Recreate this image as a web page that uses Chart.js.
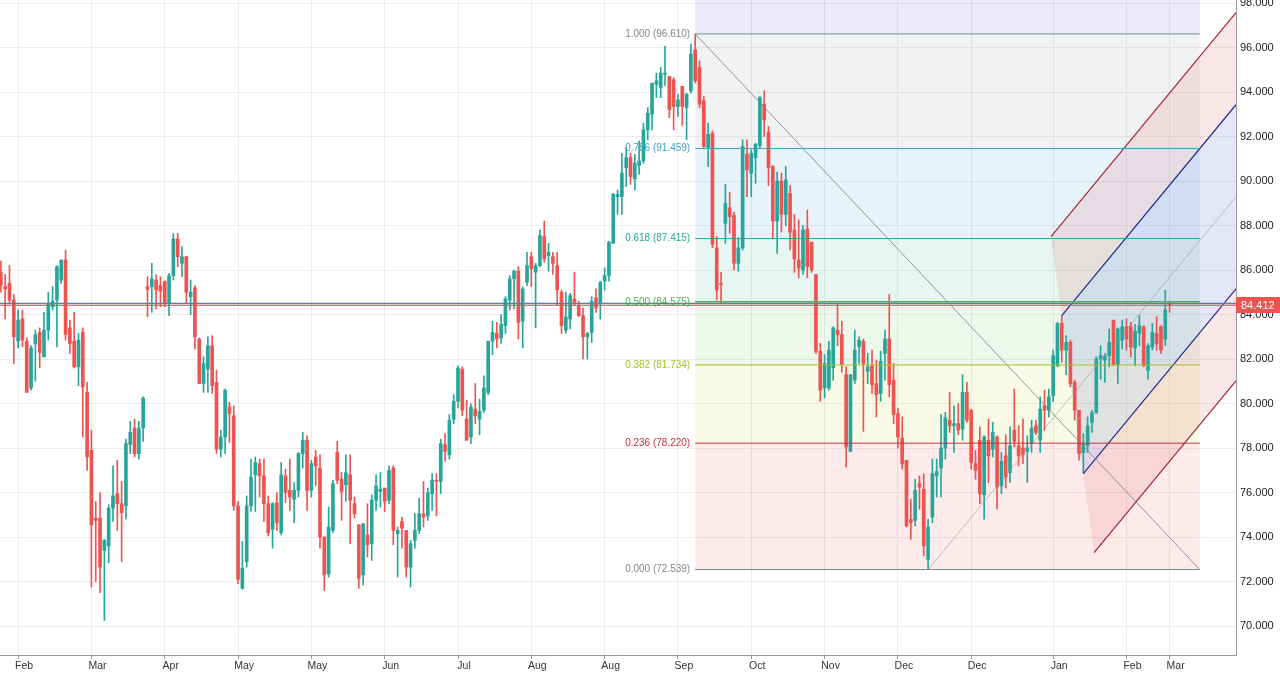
<!DOCTYPE html>
<html>
<head>
<meta charset="utf-8">
<title>Chart</title>
<script src="https://cdn.jsdelivr.net/npm/chart.js@4.4.0/dist/chart.umd.min.js"></script>
<style>
  html, body { margin: 0; padding: 0; background: #ffffff; }
  canvas { display: block; }
</style>
</head>
<body>
<canvas id="chart" width="1280" height="675"></canvas>
<script>
// daily candles (index 0 = first bar on the left)
var opens = [
  85.9, 85.25, 85.4, 84.65, 82.8, 83.8, 82.8, 80.7, 82.7, 83.2,
  82.1, 83.3, 84.35, 84.65, 85.55, 86.45, 83.4, 82.8, 81.65, 83.2,
  80.5, 77.9, 74.85, 74.85, 73.4, 73.6, 75.3, 75.95, 75.5, 75.4,
  78.15, 78.9, 77.75, 78.9, 85.25, 85.25, 85.55, 85.3, 85.5, 84.5,
  85.75, 87.4, 86.3, 86.6, 84.8, 85.2, 82.9, 80.9, 81.55, 82.6,
  80.95, 77.95, 78.5, 79.85, 79.45, 75.4, 71.7, 72.9, 75.4, 76.8,
  77.3, 76.75, 75.5, 74.35, 75.55, 74.2, 76.75, 76.1, 75.7, 76.1,
  77.75, 78.35, 76.1, 77.6, 77.1, 74.0, 72.35, 74.3, 77.8, 76.6,
  76.35, 76.8, 75.5, 74.55, 72.3, 74.1, 73.7, 75.65, 76.05, 76.2,
  75.65, 77.1, 74.15, 74.7, 74.3, 72.65, 73.85, 74.3, 75.05, 74.95,
  75.95, 76.55, 76.5, 78.15, 77.7, 79.3, 80.1, 81.55, 79.3, 78.5,
  79.75, 79.3, 79.7, 80.5, 82.8, 83.15, 82.95, 83.5, 84.65, 85.6,
  85.95, 83.7, 85.45, 86.6, 85.9, 86.2, 87.5, 86.65, 86.6, 86.2,
  85.0, 83.3, 83.8, 84.7, 84.4, 83.95, 83.0, 83.2, 84.75, 84.5,
  85.5, 85.75, 87.2, 89.3, 89.3, 90.6, 91.05, 90.1, 90.7, 90.9,
  92.3, 93.0, 94.35, 94.2, 94.8, 94.7, 94.55, 93.35, 94.25, 93.3,
  94.05, 95.9, 95.1, 93.6, 91.5, 92.15, 87.0, 85.4, 88.1, 88.8,
  88.45, 86.3, 87.0, 91.2, 90.35, 91.05, 91.6, 93.45, 92.2, 90.65,
  88.2, 90.0, 88.5, 89.45, 87.8, 86.45, 86.0, 87.85, 87.25, 85.8,
  82.35, 80.7, 80.7, 81.6, 83.3, 83.1, 81.3, 77.85, 81.05, 82.55,
  82.8, 81.45, 81.7, 80.9, 80.45, 82.25, 82.9, 81.05, 79.55, 78.45,
  77.45, 74.8, 74.75, 76.4, 76.15, 73.0, 74.9, 76.75, 77.1, 78.0,
  79.25, 79.0, 79.1, 78.85, 80.5, 79.7, 77.3, 78.35, 75.9, 78.35,
  77.95, 78.5, 76.3, 77.65, 76.9, 78.8, 78.1, 78.0, 77.85, 78.2,
  79.0, 78.35, 79.9, 79.7, 80.35, 81.7, 83.6, 82.4, 82.75, 80.95,
  79.7, 77.8, 78.1, 79.15, 79.6, 82.0, 81.95, 82.15, 83.75, 81.75,
  82.85, 83.45, 83.45, 82.5, 83.15, 83.45, 81.5, 82.55, 83.15, 83.45,
  82.9, 84.5
];
var highs = [
  86.4, 85.8, 86.2, 84.9, 84.2, 84.2, 82.95, 82.6, 83.3, 83.4,
  84.1, 85.0, 85.25, 86.2, 86.45, 86.9, 83.75, 84.1, 83.15, 83.4,
  80.95, 78.8, 75.6, 76.0, 73.9, 75.45, 77.2, 77.45, 76.5, 78.4,
  79.2, 79.3, 79.2, 80.3, 85.7, 86.3, 85.8, 85.7, 85.5, 85.85,
  87.65, 87.65, 87.05, 86.6, 85.55, 85.3, 82.95, 82.1, 83.0, 83.05,
  81.5, 78.8, 80.65, 80.05, 79.9, 75.6, 73.8, 75.85, 77.5, 77.6,
  77.5, 77.5, 75.85, 75.55, 76.0, 77.35, 77.05, 77.5, 76.45, 77.8,
  78.7, 78.55, 77.45, 77.9, 77.7, 74.0, 75.35, 76.55, 78.3, 76.9,
  77.7, 77.7, 75.8, 74.55, 74.6, 75.5, 75.9, 76.8, 76.9, 76.2,
  77.2, 77.2, 74.45, 74.9, 74.3, 73.85, 75.05, 75.75, 76.5, 76.2,
  76.85, 76.85, 78.4, 78.65, 79.5, 80.4, 81.7, 81.65, 80.15, 80.0,
  80.9, 80.2, 81.25, 82.8, 83.7, 83.65, 84.0, 84.8, 85.75, 86.0,
  86.15, 85.25, 86.8, 86.8, 86.3, 87.8, 88.2, 87.2, 86.8, 86.8,
  85.1, 85.0, 84.95, 85.9, 84.6, 84.3, 83.2, 84.8, 85.15, 85.5,
  86.1, 87.3, 89.45, 89.6, 91.25, 91.5, 91.25, 91.2, 91.8, 92.6,
  93.3, 94.4, 94.85, 95.1, 96.05, 94.7, 94.65, 93.9, 94.25, 93.95,
  96.15, 96.61, 95.4, 93.8, 92.6, 92.25, 87.5, 85.9, 89.85, 89.5,
  88.6, 87.45, 91.85, 91.85, 91.4, 91.7, 93.8, 94.05, 92.45, 90.7,
  90.4, 90.35, 90.65, 89.8, 88.5, 88.25, 88.0, 88.7, 87.25, 85.8,
  82.7, 82.2, 82.8, 83.45, 84.45, 83.7, 81.65, 81.3, 83.3, 83.0,
  82.9, 82.25, 82.4, 81.95, 82.35, 83.3, 84.9, 81.8, 79.8, 79.4,
  77.45, 75.7, 76.6, 76.75, 76.85, 74.8, 77.5, 77.5, 79.5, 79.6,
  80.5, 79.9, 80.0, 81.3, 80.95, 79.75, 77.9, 78.95, 78.55, 79.3,
  79.15, 78.55, 77.8, 78.6, 78.95, 80.65, 79.0, 79.3, 78.55, 79.25,
  79.25, 80.3, 80.6, 80.65, 82.4, 83.65, 83.95, 83.05, 82.85, 81.05,
  79.7, 78.65, 79.4, 79.7, 82.1, 82.6, 82.25, 83.35, 83.75, 83.4,
  83.75, 83.8, 83.65, 83.55, 83.95, 83.5, 82.7, 83.6, 83.9, 83.5,
  85.1, 84.6
];
var lows = [
  85.0, 83.8, 84.5, 81.8, 82.5, 82.55, 80.5, 80.6, 81.0, 81.6,
  82.1, 82.85, 84.2, 82.55, 85.4, 82.85, 82.25, 81.6, 80.8, 78.5,
  77.0, 71.75, 72.0, 71.5, 70.25, 72.85, 74.7, 74.3, 72.9, 74.8,
  77.75, 77.6, 77.5, 78.3, 83.9, 84.1, 84.25, 84.35, 84.35, 83.95,
  85.55, 86.15, 85.7, 84.5, 84.0, 82.45, 80.9, 80.5, 80.5, 80.45,
  77.75, 77.6, 77.75, 78.25, 75.2, 71.9, 71.65, 72.65, 75.15, 75.15,
  75.8, 74.7, 74.05, 73.5, 74.3, 74.1, 75.55, 75.2, 74.65, 75.8,
  77.1, 75.2, 75.8, 76.3, 73.5, 71.6, 72.2, 74.2, 76.4, 74.75,
  75.6, 73.7, 74.85, 71.7, 71.85, 73.1, 72.95, 75.2, 75.35, 75.15,
  75.5, 73.65, 72.2, 73.5, 72.2, 71.75, 73.5, 74.15, 74.45, 74.75,
  75.2, 74.95, 75.95, 77.4, 77.5, 79.1, 79.8, 79.45, 78.35, 78.2,
  79.1, 78.6, 79.6, 80.4, 82.2, 82.5, 82.7, 83.15, 84.2, 84.25,
  82.9, 82.5, 85.3, 85.25, 83.4, 86.15, 86.35, 85.95, 85.8, 84.4,
  83.15, 83.15, 83.35, 84.4, 83.9, 82.0, 82.0, 82.75, 84.1, 83.8,
  85.1, 85.5, 87.2, 88.5, 88.5, 89.75, 89.85, 89.6, 90.3, 90.8,
  91.85, 92.3, 93.75, 93.75, 94.3, 92.85, 92.3, 92.9, 92.5, 91.85,
  93.95, 94.4, 93.3, 91.5, 90.65, 87.0, 84.65, 84.5, 87.2, 87.65,
  86.0, 85.95, 86.9, 89.3, 89.3, 89.9, 91.5, 92.0, 89.8, 87.4,
  86.75, 87.7, 88.0, 86.9, 85.9, 85.65, 85.8, 85.65, 85.9, 82.25,
  80.1, 80.25, 80.6, 81.05, 82.6, 81.4, 77.15, 77.85, 80.9, 81.8,
  78.75, 80.9, 80.45, 79.4, 80.1, 81.05, 80.3, 79.1, 78.0, 77.05,
  74.45, 73.9, 74.5, 75.25, 73.15, 72.54, 74.65, 75.8, 75.8, 77.5,
  78.7, 77.8, 78.6, 78.35, 79.15, 77.05, 76.6, 75.5, 74.8, 76.45,
  77.6, 75.25, 75.95, 76.2, 76.45, 78.05, 77.2, 77.3, 76.45, 77.8,
  78.6, 77.8, 78.8, 79.4, 80.1, 81.65, 81.85, 81.3, 80.75, 79.25,
  77.45, 76.85, 77.8, 78.7, 79.55, 81.1, 80.95, 81.65, 81.7, 80.9,
  82.45, 82.4, 82.1, 81.7, 82.6, 81.65, 81.1, 82.4, 82.4, 82.25,
  82.6, 84.1
];
var closes = [
  85.3, 85.15, 84.65, 83.0, 83.75, 82.85, 80.5, 82.5, 83.1, 82.3,
  83.3, 84.5, 84.6, 86.15, 86.45, 83.1, 82.7, 81.65, 82.85, 80.75,
  77.6, 74.55, 74.75, 72.65, 73.85, 75.3, 75.85, 75.5, 75.1, 78.2,
  78.7, 77.75, 78.9, 80.25, 85.13, 85.6, 85.1, 85.05, 84.5, 85.75,
  87.4, 86.6, 86.6, 85.0, 85.0, 83.0, 80.9, 81.8, 82.6, 80.8,
  77.95, 78.5, 80.6, 79.55, 75.4, 72.1, 72.6, 75.4, 76.7, 77.35,
  76.75, 75.5, 74.2, 75.5, 74.65, 76.8, 76.0, 75.8, 76.1, 77.75,
  78.35, 76.1, 77.3, 77.2, 74.0, 72.3, 74.45, 76.4, 76.55, 76.05,
  76.9, 75.65, 75.05, 72.15, 74.6, 73.65, 75.65, 76.3, 76.15, 75.6,
  77.0, 74.3, 74.3, 74.4, 72.65, 73.7, 74.3, 75.05, 74.9, 76.0,
  76.55, 76.5, 78.2, 77.85, 79.25, 80.1, 81.6, 79.7, 78.35, 79.85,
  79.45, 79.65, 80.7, 82.8, 83.2, 82.9, 83.55, 84.7, 85.6, 85.95,
  83.65, 85.15, 86.2, 86.05, 86.2, 87.55, 86.5, 86.8, 86.3, 85.1,
  83.5, 83.9, 84.85, 84.55, 83.95, 83.0, 83.15, 84.6, 84.3, 85.45,
  85.75, 87.25, 89.4, 89.4, 90.35, 91.05, 90.2, 90.8, 90.9, 92.3,
  93.05, 94.4, 94.5, 94.85, 94.85, 93.2, 93.35, 93.65, 93.35, 93.9,
  95.7, 94.5, 93.45, 91.55, 92.1, 87.15, 85.1, 85.35, 89.0, 88.4,
  86.3, 87.0, 91.55, 90.5, 91.25, 91.65, 93.75, 92.75, 90.6, 88.2,
  90.0, 88.5, 90.05, 87.7, 86.5, 86.1, 87.8, 86.15, 86.0, 82.35,
  80.6, 81.8, 82.4, 83.4, 83.1, 81.75, 78.05, 81.3, 82.4, 82.85,
  81.8, 81.65, 80.85, 80.4, 81.9, 82.9, 80.85, 79.5, 78.5, 77.3,
  74.5, 74.65, 76.1, 76.25, 73.6, 74.45, 76.85, 76.95, 78.0, 79.35,
  79.0, 79.1, 78.8, 80.5, 79.25, 77.35, 77.0, 75.95, 78.5, 77.65,
  78.7, 76.25, 77.4, 76.7, 78.1, 78.3, 77.65, 77.7, 78.0, 78.9,
  78.7, 79.75, 79.7, 80.3, 82.15, 83.6, 82.4, 82.75, 80.9, 79.7,
  77.75, 78.2, 79.0, 79.6, 82.0, 82.15, 82.15, 82.75, 81.75, 83.35,
  83.45, 82.9, 82.55, 83.25, 83.5, 81.7, 82.6, 83.2, 82.7, 82.4,
  84.2, 84.412
];

// time axis: bar index where each month label sits
var tickIdx = [4, 21, 38, 55, 72, 89, 106, 123, 140, 157, 174, 191, 208, 225, 244, 261, 271];
var tickLabels = ['Feb', 'Mar', 'Apr', 'May', 'May', 'Jun', 'Jul', 'Aug', 'Aug', 'Sep', 'Oct', 'Nov', 'Dec', 'Dec', 'Jan', 'Feb', 'Mar'];
var priceTicks = [70, 72, 74, 76, 78, 80, 82, 84, 86, 88, 90, 92, 94, 96, 98];

// fib retracement anchors (bar index, price) and levels
var fibIdx = [161, 278];
var fibPrice = [96.61, 72.539];
var fibLevels = [1.618, 1, 0.786, 0.618, 0.5, 0.382, 0.236, 0];

// pitchfork anchors: pivot low, upper high, lower low
var forkIdx = [215, 246, 251];
var forkPrice = [72.54, 83.95, 76.85];

var lastPrice = 84.412;
var flatLine = 84.5;

var UP = '#26a69a';
var DOWN = '#ef5350';
var X_MIN = -0.2;
var X_MAX = 286.4;

var fibColors = {
  '1.618': '#5c6bc0', '1': '#7f868f', '0.786': '#3fa0c0', '0.618': '#2aa88e',
  '0.5': '#4caf50', '0.382': '#a8bd2a', '0.236': '#c2333e', '0': '#7f868f'
};
var fibFills = {
  '1.618': 'rgba(80,80,215,0.12)', '1': 'rgba(120,123,134,0.10)', '0.786': 'rgba(40,150,210,0.11)',
  '0.618': 'rgba(20,165,120,0.10)', '0.5': 'rgba(90,180,60,0.10)', '0.382': 'rgba(205,210,40,0.12)',
  '0.236': 'rgba(235,60,70,0.11)'
};

function fibValue(lvl) {
  return fibPrice[1] + lvl * (fibPrice[0] - fibPrice[1]);
}

// pitchfork geometry from its three anchors
function forkLines() {
  var mx = (forkIdx[1] + forkIdx[2]) / 2;
  var my = (forkPrice[1] + forkPrice[2]) / 2;
  var slope = (my - forkPrice[0]) / (mx - forkIdx[0]);
  var half = { x: forkIdx[1] - mx, y: forkPrice[1] - my };
  var lines = {};
  [2, 1, -1, -2].forEach(function(f) {
    var sx = mx + f * half.x, sy = my + f * half.y;
    lines[f] = [{ x: sx, y: sy }, { x: X_MAX, y: sy + slope * (X_MAX - sx) }];
  });
  lines[0] = [{ x: forkIdx[0], y: forkPrice[0] }, { x: X_MAX, y: forkPrice[0] + slope * (X_MAX - forkIdx[0]) }];
  return lines;
}

function lineSet(points, color, width) {
  return {
    type: 'line',
    data: points,
    borderColor: color,
    borderWidth: width,
    pointRadius: 0,
    fill: false,
    tension: 0,
    order: 1
  };
}

function buildDatasets() {
  var sets = [];
  var bars = closes.map(function(c, i) { return i; });
  var colors = bars.map(function(i) { return closes[i] >= opens[i] ? UP : DOWN; });

  // horizontal line + last price line across the whole chart
  sets.push(lineSet([{ x: X_MIN, y: flatLine }, { x: X_MAX, y: flatLine }], '#5f7d9c', 1.5));
  sets.push(lineSet([{ x: X_MIN, y: lastPrice }, { x: X_MAX, y: lastPrice }], '#e0585a', 1));

  // fib level lines and trend line
  fibLevels.forEach(function(lvl) {
    if (lvl > 1) return;
    var p = fibValue(lvl);
    sets.push(lineSet([{ x: fibIdx[0], y: p }, { x: fibIdx[1], y: p }], fibColors[String(lvl)], lvl === 0.5 ? 1.5 : 1));
  });
  sets.push(lineSet([{ x: fibIdx[0], y: fibPrice[0] }, { x: fibIdx[1], y: fibPrice[1] }], 'rgba(120,128,138,0.8)', 1));

  // pitchfork
  var fl = forkLines();
  sets.push(lineSet(fl[0], 'rgba(150,150,150,0.55)', 1));
  sets.push(lineSet(fl[1], '#22288a', 1.2));
  sets.push(lineSet(fl[-1], '#22288a', 1.2));
  sets.push(lineSet(fl[2], '#a3242f', 1.2));
  sets.push(lineSet(fl[-2], '#a3242f', 1.2));

  // candles: bodies over wicks
  sets.push({
    type: 'bar',
    data: bars.map(function(i) { return { x: i, y: [opens[i], closes[i]] }; }),
    backgroundColor: colors,
    barThickness: 3,
    minBarLength: 1,
    grouped: false,
    order: 5
  });
  sets.push({
    type: 'bar',
    data: bars.map(function(i) { return { x: i, y: [lows[i], highs[i]] }; }),
    backgroundColor: colors,
    barThickness: 1,
    grouped: false,
    order: 6
  });
  return sets;
}

var drawings = {
  id: 'drawings',
  beforeDatasetsDraw: function(chart) {
    var ctx = chart.ctx, xs = chart.scales.x, ys = chart.scales.y, a = chart.chartArea;
    ctx.save();
    ctx.beginPath();
    ctx.rect(a.left, a.top, a.right - a.left, a.bottom - a.top);
    ctx.clip();

    // fib bands, each takes the colour of its upper level
    var x0 = xs.getPixelForValue(fibIdx[0]);
    var x1 = xs.getPixelForValue(fibIdx[1]);
    for (var k = 0; k < fibLevels.length - 1; k++) {
      var yTop = ys.getPixelForValue(fibValue(fibLevels[k]));
      var yBot = ys.getPixelForValue(fibValue(fibLevels[k + 1]));
      ctx.fillStyle = fibFills[String(fibLevels[k])];
      ctx.fillRect(x0, yTop, x1 - x0, yBot - yTop);
    }

    // pitchfork bands
    var fl = forkLines();
    var bands = [[2, 1, 'rgba(215,70,75,0.13)'], [1, -1, 'rgba(45,60,200,0.12)'], [-1, -2, 'rgba(215,70,75,0.13)']];
    bands.forEach(function(b) {
      var p = fl[b[0]], q = fl[b[1]];
      ctx.beginPath();
      ctx.moveTo(xs.getPixelForValue(p[0].x), ys.getPixelForValue(p[0].y));
      ctx.lineTo(xs.getPixelForValue(q[0].x), ys.getPixelForValue(q[0].y));
      ctx.lineTo(xs.getPixelForValue(q[1].x), ys.getPixelForValue(q[1].y));
      ctx.lineTo(xs.getPixelForValue(p[1].x), ys.getPixelForValue(p[1].y));
      ctx.closePath();
      ctx.fillStyle = b[2];
      ctx.fill();
    });
    ctx.restore();
  },
  afterDatasetsDraw: function(chart) {
    var ctx = chart.ctx, xs = chart.scales.x, ys = chart.scales.y;
    var x0 = xs.getPixelForValue(fibIdx[0]);
    ctx.save();
    ctx.font = '10px "Liberation Sans", Arial, sans-serif';
    ctx.textAlign = 'right';
    ctx.textBaseline = 'middle';
    fibLevels.forEach(function(lvl) {
      if (lvl > 1) return;
      var p = fibValue(lvl);
      ctx.fillStyle = fibColors[String(lvl)];
      ctx.fillText(lvl.toFixed(3) + ' (' + p.toFixed(3) + ')', x0 - 5, ys.getPixelForValue(p));
    });
    ctx.restore();
  },
  afterDraw: function(chart) {
    var ctx = chart.ctx, ys = chart.scales.y, a = chart.chartArea;
    var y = Math.round(ys.getPixelForValue(lastPrice));
    ctx.save();
    ctx.fillStyle = '#ef5350';
    ctx.fillRect(a.right, y - 8, chart.width - a.right, 16);
    ctx.fillStyle = '#ffffff';
    ctx.font = '11px "Liberation Sans", Arial, sans-serif';
    ctx.textAlign = 'left';
    ctx.textBaseline = 'middle';
    ctx.fillText(lastPrice.toFixed(3), a.right + 5, y + 0.5);
    ctx.restore();
  }
};

function generateChart() {
  var ctx = document.getElementById('chart').getContext('2d');
  new Chart(ctx, {
    type: 'bar',
    data: { datasets: buildDatasets() },
    plugins: [drawings],
    options: {
      responsive: false,
      animation: false,
      events: [],
      layout: { padding: 0 },
      plugins: {
        legend: { display: false },
        tooltip: { enabled: false }
      },
      scales: {
        x: {
          type: 'linear',
          min: X_MIN,
          max: X_MAX,
          offset: false,
          afterBuildTicks: function(scale) {
            scale.ticks = tickIdx.map(function(v) { return { value: v }; });
          },
          afterFit: function(scale) {
            scale.height = 20;
            scale.paddingLeft = 0;
            scale.paddingRight = 0;
          },
          grid: { offset: false, color: '#ececec', tickLength: 4, tickColor: '#9a9a9a' },
          border: { color: '#9a9a9a' },
          ticks: {
            autoSkip: false,
            maxRotation: 0,
            padding: 1,
            labelOffset: 6,
            color: '#333333',
            font: { family: '"Liberation Sans", Arial, sans-serif', size: 10.5 },
            callback: function(v, i) { return tickLabels[i]; }
          }
        },
        y: {
          type: 'linear',
          position: 'right',
          min: 68.70,
          max: 98.135,
          afterBuildTicks: function(scale) {
            scale.ticks = priceTicks.map(function(v) { return { value: v }; });
          },
          afterFit: function(scale) {
            scale.width = 44;
            scale.paddingTop = 0;
            scale.paddingBottom = 0;
          },
          grid: { offset: false, color: '#ececec', drawTicks: false },
          border: { color: '#9a9a9a' },
          ticks: {
            padding: 4,
            color: '#222222',
            font: { family: '"Liberation Sans", Arial, sans-serif', size: 11 },
            callback: function(v) { return Number(v).toFixed(3); }
          }
        }
      }
    }
  });
}

generateChart();
</script>
</body>
</html>
